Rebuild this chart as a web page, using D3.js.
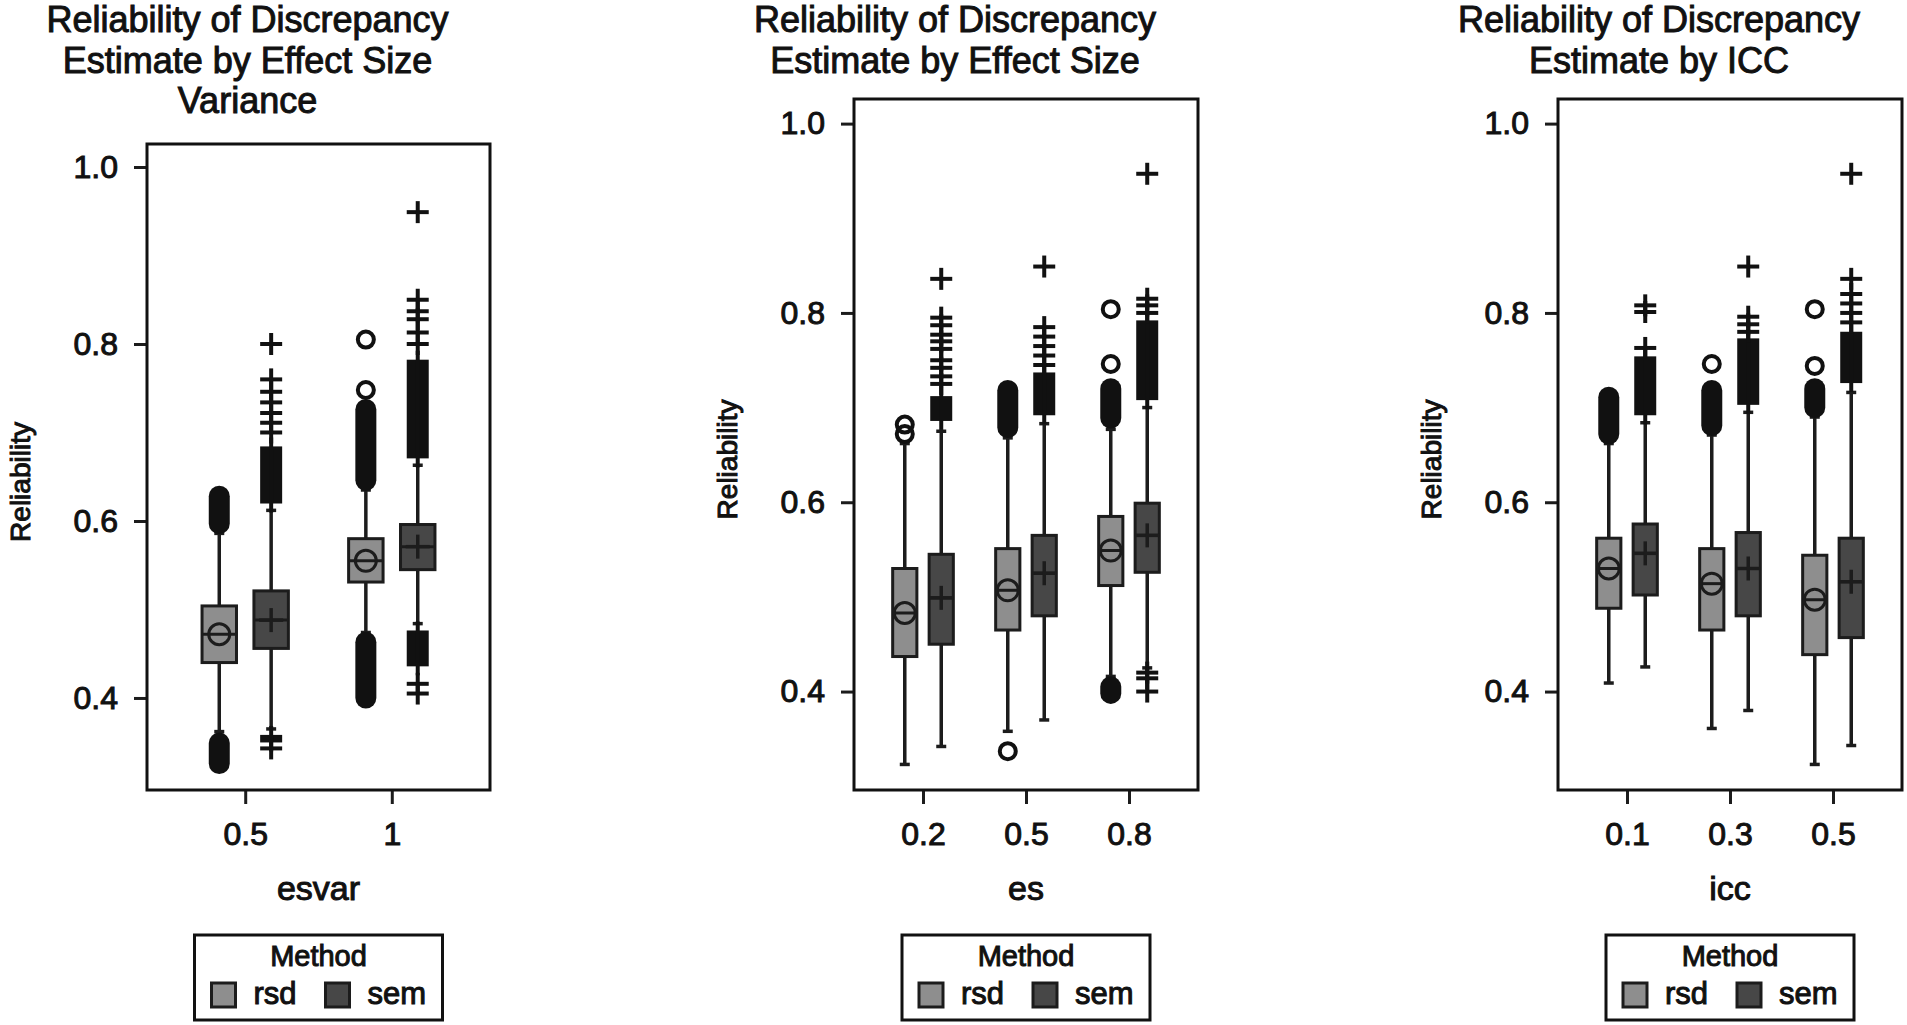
<!DOCTYPE html>
<html>
<head>
<meta charset="utf-8">
<script src="https://cdn.jsdelivr.net/npm/d3@7"></script>
<style>
  body { margin: 0; background: #fff; }
  text { font-family: "Liberation Sans", Arial, sans-serif; fill: #111; stroke: #111; stroke-width: 1px; }
</style>
</head>
<body>
<div id="chart"></div>
<script>
// ---- data ----
var methods = ["rsd", "sem"];
var yTicks = [0.4, 0.6, 0.8, 1.0];

var esvarCats = ["0.5", "1"];
var esCats = ["0.2", "0.5", "0.8"];
var iccCats = ["0.1", "0.3", "0.5"];

// box stats per category: [q1, median, q3, mean, whisker low, whisker high]
var esvarRsd = [[0.440, 0.472, 0.504, 0.472, 0.362, 0.586], [0.531, 0.555, 0.580, 0.555, 0.474, 0.635]];
var esvarSem = [[0.456, 0.488, 0.521, 0.488, 0.365, 0.612], [0.545, 0.571, 0.596, 0.571, 0.484, 0.663]];
var esRsd = [[0.437, 0.483, 0.530, 0.483, 0.323, 0.662], [0.465, 0.507, 0.551, 0.507, 0.358, 0.668], [0.512, 0.549, 0.585, 0.549, 0.416, 0.677]];
var esSem = [[0.450, 0.499, 0.545, 0.499, 0.342, 0.675], [0.480, 0.525, 0.565, 0.525, 0.370, 0.683], [0.526, 0.565, 0.599, 0.565, 0.425, 0.700]];
var iccRsd = [[0.488, 0.530, 0.562, 0.530, 0.409, 0.662], [0.465, 0.514, 0.551, 0.514, 0.361, 0.671], [0.439, 0.497, 0.544, 0.497, 0.323, 0.690]];
var iccSem = [[0.502, 0.546, 0.577, 0.546, 0.426, 0.684], [0.480, 0.530, 0.568, 0.530, 0.380, 0.695], [0.457, 0.516, 0.562, 0.516, 0.343, 0.716]];

// runs of overlapping outliers per category: [from, to]
var esvarRsdDense = [[[0.597, 0.628], [0.326, 0.349]], [[0.646, 0.726], [0.400, 0.463]]];
var esvarSemDense = [[[0.622, 0.682], [0.352, 0.356]], [[0.673, 0.780], [0.438, 0.474]]];
var esRsdDense = [[], [[0.679, 0.718]], [[0.689, 0.720], [0.398, 0.405]]];
var esSemDense = [[[0.688, 0.710]], [[0.694, 0.735]], [[0.710, 0.790]]];
var iccRsdDense = [[[0.672, 0.711]], [[0.681, 0.718]], [[0.700, 0.720]]];
var iccSemDense = [[[0.694, 0.752]], [[0.705, 0.771]], [[0.728, 0.778]]];

// single outliers per category
var esvarRsdOut = [[], [0.748, 0.805]];
var esvarSemOut = [[0.700, 0.711, 0.722, 0.734, 0.746, 0.760, 0.800, 0.343], [0.800, 0.813, 0.828, 0.837, 0.850, 0.949, 0.416, 0.405]];
var esRsdOut = [[0.672, 0.682], [0.337], [0.746, 0.804]];
var esSemOut = [[0.725, 0.733, 0.742, 0.750, 0.762, 0.770, 0.777, 0.787, 0.795, 0.836], [0.745, 0.755, 0.765, 0.775, 0.785, 0.849], [0.800, 0.808, 0.815, 0.947, 0.420, 0.414, 0.400]];
var iccRsdOut = [[], [0.746], [0.744, 0.804]];
var iccSemOut = [[0.763, 0.801, 0.808], [0.780, 0.788, 0.796, 0.849], [0.790, 0.800, 0.810, 0.820, 0.836, 0.947]];

var fills = {rsd: "#8e8e8e", sem: "#474747"};
var ink = "#1c1c1c";

var svg = d3.select("#chart").append("svg").attr("width", 1907).attr("height", 1025);

var panels = [
  {title: ["Reliability of Discrepancy", "Estimate by Effect Size", "Variance"], xlab: "esvar", cats: esvarCats,
   box: {rsd: esvarRsd, sem: esvarSem}, dense: {rsd: esvarRsdDense, sem: esvarSemDense}, out: {rsd: esvarRsdOut, sem: esvarSemOut},
   left: 147, right: 490, top: 144},
  {title: ["Reliability of Discrepancy", "Estimate by Effect Size"], xlab: "es", cats: esCats,
   box: {rsd: esRsd, sem: esSem}, dense: {rsd: esRsdDense, sem: esSemDense}, out: {rsd: esRsdOut, sem: esSemOut},
   left: 854, right: 1198, top: 99},
  {title: ["Reliability of Discrepancy", "Estimate by ICC"], xlab: "icc", cats: iccCats,
   box: {rsd: iccRsd, sem: iccSem}, dense: {rsd: iccRsdDense, sem: iccSemDense}, out: {rsd: iccRsdOut, sem: iccSemOut},
   left: 1558, right: 1902, top: 99}
];
var bottom = 790;

function plus(g, cx, cy, arm, sw, color) {
  g.append("line").attr("x1", cx - arm).attr("x2", cx + arm).attr("y1", cy).attr("y2", cy)
    .attr("stroke", color).attr("stroke-width", sw);
  g.append("line").attr("x1", cx).attr("x2", cx).attr("y1", cy - arm).attr("y2", cy + arm)
    .attr("stroke", color).attr("stroke-width", sw);
}

panels.forEach(function(p) {
  var g = svg.append("g");
  var mid = (p.left + p.right) / 2;

  var y = d3.scaleLinear().domain([0.296, 1.026]).range([bottom, p.top]);
  var x = d3.scalePoint().domain(p.cats).range([p.left, p.right]).padding(0.67);
  var step = x.step();
  var off = d3.scalePoint().domain(methods).range([-0.177 * step, 0.177 * step]);
  var bw = 0.235 * step;

  // title
  p.title.forEach(function(t, i) {
    g.append("text").attr("x", mid - 71).attr("y", 32 + i * 40.5).attr("text-anchor", "middle")
      .style("font-size", "36px").text(t);
  });

  // axes
  var ya = g.append("g").attr("transform", "translate(" + p.left + ",0)")
    .call(d3.axisLeft(y).tickValues(yTicks).tickFormat(d3.format(".1f")).tickSize(13).tickPadding(16));
  var xa = g.append("g").attr("transform", "translate(0," + bottom + ")")
    .call(d3.axisBottom(x).tickSize(14).tickPadding(18));
  [ya, xa].forEach(function(a) {
    a.select(".domain").remove();
    a.selectAll(".tick line").attr("stroke", ink).attr("stroke-width", 3);
    a.selectAll(".tick text").style("font-size", "32px").attr("fill", "#111");
  });

  g.append("text").attr("transform", "translate(" + (p.left - 117) + "," + ((p.top + bottom) / 2 + 15) + ") rotate(-90)")
    .attr("text-anchor", "middle").style("font-size", "28px").text("Reliability");
  g.append("text").attr("x", mid).attr("y", 900).attr("text-anchor", "middle")
    .style("font-size", "34px").text(p.xlab);

  // boxes
  methods.forEach(function(m) {
    p.cats.forEach(function(c, i) {
      var s = p.box[m][i];
      var cx = x(c) + off(m);
      var bg = g.append("g");

      // whiskers with caps
      [[s[2], s[5]], [s[0], s[4]]].forEach(function(w) {
        bg.append("line").attr("x1", cx).attr("x2", cx).attr("y1", y(w[0])).attr("y2", y(w[1]))
          .attr("stroke", ink).attr("stroke-width", 3.5);
        bg.append("line").attr("x1", cx - 5).attr("x2", cx + 5).attr("y1", y(w[1])).attr("y2", y(w[1]))
          .attr("stroke", ink).attr("stroke-width", 3.5);
      });

      // dense outlier runs
      p.dense[m][i].forEach(function(r) {
        if (m === "rsd") {
          bg.append("line").attr("x1", cx).attr("x2", cx).attr("y1", y(r[0])).attr("y2", y(r[1]))
            .attr("stroke", "#111").attr("stroke-width", 21).attr("stroke-linecap", "round");
        } else {
          bg.append("rect").attr("x", cx - 11).attr("width", 22)
            .attr("y", y(r[1]) - 2).attr("height", y(r[0]) - y(r[1]) + 4).attr("fill", "#111");
          bg.append("line").attr("x1", cx).attr("x2", cx).attr("y1", y(r[1]) - 11).attr("y2", y(r[0]) + 11)
            .attr("stroke", "#111").attr("stroke-width", 4);
        }
      });

      // single outliers
      p.out[m][i].forEach(function(v) {
        if (m === "rsd") {
          bg.append("circle").attr("cx", cx).attr("cy", y(v)).attr("r", 8)
            .attr("fill", "none").attr("stroke", "#111").attr("stroke-width", 4);
        } else {
          plus(bg, cx, y(v), 11, 4, "#111");
        }
      });

      // box, median, mean
      bg.append("rect").attr("x", cx - bw / 2).attr("width", bw)
        .attr("y", y(s[2])).attr("height", y(s[0]) - y(s[2]))
        .attr("fill", fills[m]).attr("stroke", ink).attr("stroke-width", 3);
      bg.append("line").attr("x1", cx - bw / 2).attr("x2", cx + bw / 2).attr("y1", y(s[1])).attr("y2", y(s[1]))
        .attr("stroke", ink).attr("stroke-width", 3);
      if (m === "rsd") {
        bg.append("circle").attr("cx", cx).attr("cy", y(s[3])).attr("r", 10.5)
          .attr("fill", "none").attr("stroke", ink).attr("stroke-width", 3);
      } else {
        plus(bg, cx, y(s[3]), 12, 3.5, ink);
      }
    });
  });

  // frame
  g.append("rect").attr("x", p.left).attr("y", p.top).attr("width", p.right - p.left).attr("height", bottom - p.top)
    .attr("fill", "none").attr("stroke", "#111").attr("stroke-width", 3);

  // legend
  var lg = g.append("g").attr("transform", "translate(" + (mid - 124) + ",935)");
  lg.append("rect").attr("width", 248).attr("height", 85).attr("fill", "none").attr("stroke", "#111").attr("stroke-width", 3);
  lg.append("text").attr("x", 124).attr("y", 31).attr("text-anchor", "middle")
    .style("font-size", "29px").text("Method");
  methods.forEach(function(m, i) {
    var lx = 17 + i * 114;
    lg.append("rect").attr("x", lx).attr("y", 48).attr("width", 24).attr("height", 24)
      .attr("fill", fills[m]).attr("stroke", ink).attr("stroke-width", 3);
    lg.append("text").attr("x", lx + 42).attr("y", 69).style("font-size", "31px").text(m);
  });
});
</script>
</body>
</html>
